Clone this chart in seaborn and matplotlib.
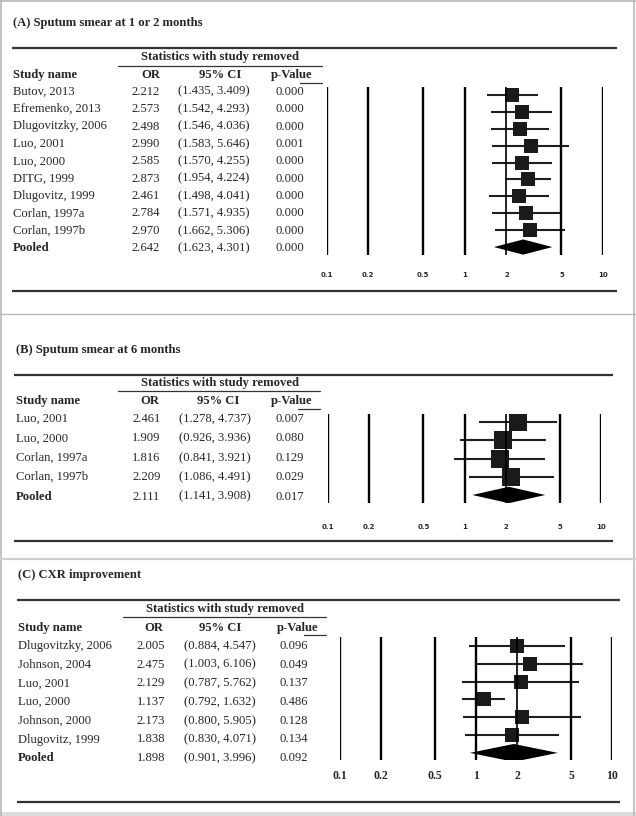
import matplotlib
matplotlib.use("Agg")
import matplotlib.pyplot as plt
import seaborn as sns
import pandas as pd
from matplotlib.ticker import NullLocator

# ---------------- data ----------------
a_title = "(A) Sputum smear at 1 or 2 months"
a_names = ["Butov, 2013", "Efremenko, 2013", "Dlugovitzky, 2006", "Luo, 2001", "Luo, 2000",
           "DITG, 1999", "Dlugovitz, 1999", "Corlan, 1997a", "Corlan, 1997b", "Pooled"]
a_or = [2.212, 2.573, 2.498, 2.990, 2.585, 2.873, 2.461, 2.784, 2.970, 2.642]
a_lo = [1.435, 1.542, 1.546, 1.583, 1.570, 1.954, 1.498, 1.571, 1.662, 1.623]
a_hi = [3.409, 4.293, 4.036, 5.646, 4.255, 4.224, 4.041, 4.935, 5.306, 4.301]
a_p = [0.000, 0.000, 0.000, 0.001, 0.000, 0.000, 0.000, 0.000, 0.000, 0.000]

b_title = "(B) Sputum smear at 6 months"
b_names = ["Luo, 2001", "Luo, 2000", "Corlan, 1997a", "Corlan, 1997b", "Pooled"]
b_or = [2.461, 1.909, 1.816, 2.209, 2.111]
b_lo = [1.278, 0.926, 0.841, 1.086, 1.141]
b_hi = [4.737, 3.936, 3.921, 4.491, 3.908]
b_p = [0.007, 0.080, 0.129, 0.029, 0.017]

c_title = "(C) CXR improvement"
c_names = ["Dlugovitzky, 2006", "Johnson, 2004", "Luo, 2001", "Luo, 2000", "Johnson, 2000",
           "Dlugovitz, 1999", "Pooled"]
c_or = [2.005, 2.475, 2.129, 1.137, 2.173, 1.838, 1.898]
c_lo = [0.884, 1.003, 0.787, 0.792, 0.800, 0.830, 0.901]
c_hi = [4.547, 6.106, 5.762, 1.632, 5.905, 4.071, 3.996]
c_p = [0.096, 0.049, 0.137, 0.486, 0.128, 0.134, 0.092]

tick_vals = [0.1, 0.2, 0.5, 1, 2, 5, 10]
tick_labels = ["0.1", "0.2", "0.5", "1", "2", "5", "10"]
header_stats = "Statistics with study removed"
header_cols = ["Study name", "OR", "95% CI", "p-Value"]

# ---------------- style ----------------
sns.set_style("white")
plt.rcParams["font.family"] = ["Liberation Serif", "DejaVu Serif"]

W, H = 636, 816
fig = plt.figure(figsize=(W / 100, H / 100), dpi=100)
bg = fig.add_axes([0, 0, 1, 1])
bg.set_xlim(0, W)
bg.set_ylim(H, 0)
bg.axis("off")

# frame / separators
frame_c = "#b8b8b8"
bg.plot([1, 1], [0, H], color=frame_c, lw=1.2)
bg.plot([634, 634], [0, H], color=frame_c, lw=1.2)
bg.plot([0, W], [0.5, 0.5], color=frame_c, lw=1.2)
bg.plot([0, W], [314, 314], color=frame_c, lw=1.0)
bg.plot([0, W], [559, 559], color="#cfcfcf", lw=1.6)
bg.fill_between([0, W], 812, 816, color="#dcdcdc", lw=0)

TXT = 9.1
rule_c = "#333333"


def panel(p):
    # title
    bg.text(p["name_x"], p["title_y"], p["title"], fontsize=TXT, fontweight="bold",
            va="center", ha="left")
    # rules
    bg.plot([p["rule_x0"], p["rule_x1"]], [p["top_y"], p["top_y"]], color=rule_c, lw=1.6,
            solid_capstyle="butt")
    bg.plot([p["rule_x0"], p["rule_x1"]], [p["bot_y"], p["bot_y"]], color=rule_c, lw=1.6,
            solid_capstyle="butt")
    bg.plot([p["stat_x0"], p["stat_x1"]], [p["stat_line_y"], p["stat_line_y"]], color=rule_c,
            lw=0.9)
    bg.plot([p["stat_x1"] - 22, p["stat_x1"]], [p["hdr_line_y"], p["hdr_line_y"]],
            color=rule_c, lw=0.9)
    # headers
    bg.text(p["stat_cx"], p["stat_y"], header_stats, fontsize=TXT, fontweight="bold",
            ha="center", va="center")
    bg.text(p["name_x"], p["hdr_y"], header_cols[0], fontsize=TXT, fontweight="bold",
            ha="left", va="center")
    for lbl, cx in zip(header_cols[1:], p["hdr_cx"]):
        bg.text(cx, p["hdr_y"], lbl, fontsize=TXT, fontweight="bold", ha="center", va="center")
    # rows
    n = len(p["names"])
    for i in range(n):
        y = p["row_y0"] + i * p["row_dy"]
        bold = "bold" if i == n - 1 else "normal"
        bg.text(p["name_x"], y, p["names"][i], fontsize=TXT, fontweight=bold,
                ha="left", va="center")
        bg.text(p["num_cx"][0], y, f"{p['or'][i]:.3f}", fontsize=TXT, ha="center", va="center")
        bg.text(p["num_cx"][1], y, f"({p['lo'][i]:.3f}, {p['hi'][i]:.3f})", fontsize=TXT,
                ha="center", va="center")
        bg.text(p["num_cx"][2], y, f"{p['p'][i]:.3f}", fontsize=TXT, ha="center", va="center")

    # forest axes
    x0, x1, y0, y1 = p["fx0"], p["fx1"], p["fy0"], p["fy1"]
    ax = fig.add_axes([x0 / W, 1 - y1 / H, (x1 - x0) / W, (y1 - y0) / H])
    ax.set_facecolor("none")
    ax.patch.set_alpha(0)
    m = n - 1
    df = pd.DataFrame({"OR": p["or"][:m], "row": list(range(m))})
    ax.hlines(df["row"], p["lo"][:m], p["hi"][:m], color="#1e1e1e", lw=1.5, zorder=2)
    sns.scatterplot(data=df, x="OR", y="row", marker="s", s=p["sq"], color="#1a1a1a",
                    linewidth=0, legend=False, ax=ax, zorder=3)
    # pooled diamond
    h = p["dia_h"]
    ax.fill([p["lo"][m], p["or"][m], p["hi"][m], p["or"][m]], [m, m - h, m, m + h],
            color="black", lw=0, zorder=3)
    for t in tick_vals:
        ax.axvline(t, color="black", lw=1.2 if t == 2 else 1.7, zorder=4)
    ax.set_xscale("log")
    ax.set_xlim(0.1, 10)
    ax.set_ylim(p["ylim"])
    ax.set_xticks(tick_vals)
    ax.set_xticklabels(tick_labels)
    ax.xaxis.set_minor_locator(NullLocator())
    ax.set_yticks([])
    ax.set_xlabel("")
    ax.set_ylabel("")
    for lab in ax.get_xticklabels():
        lab.set_fontsize(p["tick_fs"])
        lab.set_fontweight("bold")
        lab.set_fontfamily(p["tick_family"])
    ax.tick_params(axis="x", length=0, pad=p["tick_pad"])
    for s in ax.spines.values():
        s.set_visible(False)


panel(dict(title=a_title, names=a_names, **{"or": a_or}, lo=a_lo, hi=a_hi, p=a_p,
           name_x=13, title_y=23, top_y=48, bot_y=291, rule_x0=12, rule_x1=617,
           stat_x0=118, stat_x1=322, stat_line_y=66, hdr_line_y=83, stat_cx=220, stat_y=57,
           hdr_y=75, hdr_cx=[151, 220, 292], num_cx=[146, 214, 290],
           row_y0=91.7, row_dy=17.4,
           fx0=326.7, fx1=603, fy0=87, fy1=255, ylim=(9.47, -0.47), sq=100, dia_h=0.45,
           tick_fs=5.0, tick_family="DejaVu Sans", tick_pad=12))

panel(dict(title=b_title, names=b_names, **{"or": b_or}, lo=b_lo, hi=b_hi, p=b_p,
           name_x=16, title_y=350, top_y=375, bot_y=541, rule_x0=14, rule_x1=613,
           stat_x0=118, stat_x1=320, stat_line_y=391, hdr_line_y=409, stat_cx=220, stat_y=383,
           hdr_y=401, hdr_cx=[150, 218, 292], num_cx=[146.5, 214.5, 290],
           row_y0=419, row_dy=19.4,
           fx0=328, fx1=601, fy0=414, fy1=503, ylim=(4.44, -0.44), sq=165, dia_h=0.45,
           tick_fs=5.0, tick_family="DejaVu Sans", tick_pad=15))

panel(dict(title=c_title, names=c_names, **{"or": c_or}, lo=c_lo, hi=c_hi, p=c_p,
           name_x=18, title_y=575, top_y=600, bot_y=802, rule_x0=17, rule_x1=620,
           stat_x0=123, stat_x1=326, stat_line_y=617, hdr_line_y=635, stat_cx=225, stat_y=609,
           hdr_y=628, hdr_cx=[154, 220, 298], num_cx=[151, 220, 294],
           row_y0=646, row_dy=18.7,
           fx0=340, fx1=612, fy0=637, fy1=760, ylim=(6.4, -0.5), sq=95, dia_h=0.5,
           tick_fs=8.5, tick_family="Liberation Serif", tick_pad=7))

fig.savefig("out.png", dpi=100)
